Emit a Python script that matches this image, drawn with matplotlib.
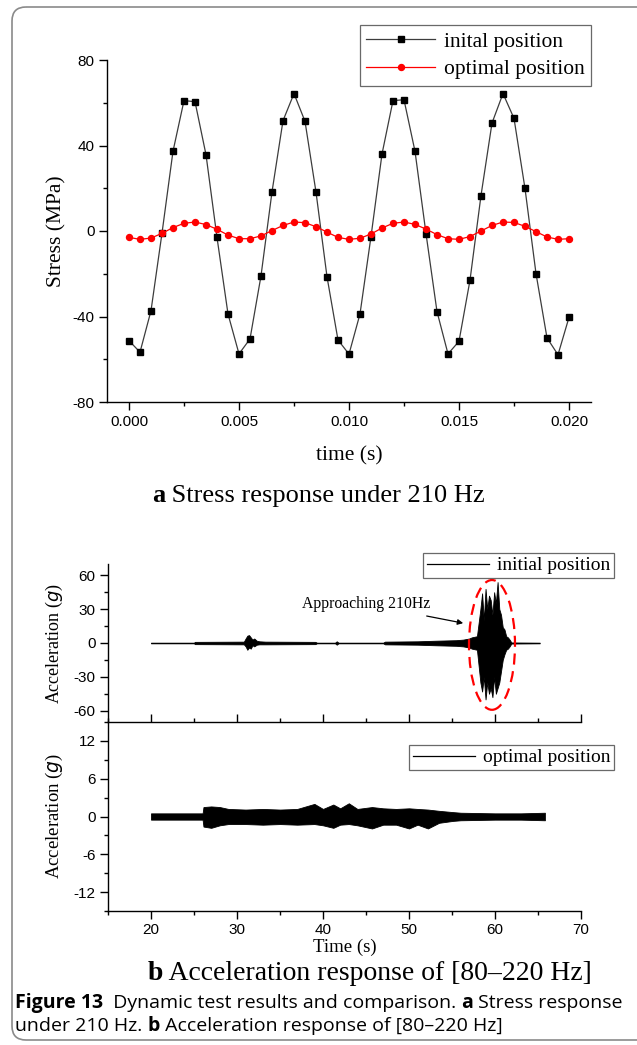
import numpy as np
import matplotlib
matplotlib.use('Agg')
import matplotlib.pyplot as plt
from matplotlib.patches import Ellipse, FancyBboxPatch
from matplotlib.ticker import MultipleLocator

plt.rcParams['axes.unicode_minus'] = False

W, H = 637, 1045
SERIF = 'Liberation Serif'
SANS = 'Liberation Sans'

# ---- (a) stress response at 210 Hz, one sample every 0.5 ms ----
time_s = np.linspace(0.0, 0.020, 41)
stress_init = [-51.3, -56.7, -37.3, -1.0, 37.3, 61.0, 60.5, 35.7, -3.0, -38.8,
               -57.5, -50.5, -21.0, 18.3, 51.6, 64.3, 51.3, 18.2, -21.4, -51.0,
               -57.6, -38.8, -2.6, 36.0, 61.0, 61.4, 37.3, -1.2, -37.7, -57.5,
               -51.6, -23.0, 16.6, 50.5, 64.3, 52.7, 19.9, -19.9, -50.0, -57.9,
               -40.4]
stress_opt = [-3.0, -3.9, -3.3, -1.1, 1.6, 3.6, 4.2, 3.0, 0.8, -1.9,
              -3.6, -3.6, -2.3, 0.2, 2.6, 4.2, 3.9, 2.0, -0.5, -3.0,
              -3.9, -3.4, -1.4, 1.4, 3.6, 4.2, 3.1, 0.9, -1.7, -3.6,
              -3.9, -2.6, 0.0, 2.6, 4.2, 4.0, 2.2, -0.3, -2.8, -3.9,
              -3.6]

# ---- (b) acceleration sweep 80-220 Hz, envelope ----
init_t = [20.0, 25.0, 25.1, 30.8, 31.0, 31.2, 31.4, 31.6, 31.8, 32.0,
          32.3, 32.6, 33.3, 39.1, 39.3, 41.4, 41.6, 41.8, 47.0, 47.2,
          51.0, 53.0, 55.5, 56.3, 57.0, 57.3, 57.9, 58.3, 58.5, 58.7,
          58.9, 59.1, 59.3, 59.5, 59.7, 59.9, 60.1, 60.3, 60.5, 60.7,
          60.9, 61.1, 61.3, 61.5, 61.7, 61.9, 65.2]
init_hi = [0.3, 0.3, 1.0, 1.2, 4.0, 6.5, 7.0, 5.0, 3.0, 4.0,
           2.0, 1.5, 1.2, 1.0, 0.3, 0.3, 1.5, 0.3, 0.3, 1.2,
           1.5, 2.0, 2.5, 3.0, 4.0, 5.0, 6.0, 30, 44, 20,
           48, 30, 42, 38, 25, 45, 35, 54, 30, 25,
           14, 12, 6, 5, 3, 0.5, 0.3]
init_lo = [-0.3, -0.3, -1.0, -1.2, -3.0, -6.0, -4.0, -5.0, -2.0, -3.0,
           -1.5, -1.2, -1.2, -1.0, -0.3, -0.3, -1.5, -0.3, -0.3, -1.2,
           -1.5, -2.0, -2.5, -3.0, -4.0, -5.0, -6.0, -35, -43, -30,
           -50, -35, -45, -40, -48, -30, -45, -40, -35, -25,
           -15, -10, -6, -5, -3, -0.5, -0.3]

opt_t = [20.0, 26.0, 26.1, 27.0, 28.0, 29.0, 31.0, 33.0, 35.0, 37.0,
         39.0, 40.0, 41.2, 42.0, 43.0, 44.0, 45.7, 47.0, 48.5, 50.0,
         51.0, 52.2, 53.5, 55.1, 56.0, 60.0, 63.0, 65.8]
opt_hi = [0.5, 0.5, 1.5, 1.6, 1.5, 1.2, 1.1, 1.2, 1.1, 1.2,
          2.0, 1.2, 1.9, 1.3, 2.1, 1.2, 1.5, 1.3, 1.2, 1.3,
          1.2, 1.1, 0.9, 0.7, 0.6, 0.5, 0.5, 0.6]
opt_lo = [-0.5, -0.5, -1.6, -1.8, -1.4, -1.2, -1.2, -1.3, -1.2, -1.3,
          -1.2, -1.4, -1.8, -1.3, -1.2, -1.4, -1.9, -1.3, -1.3, -1.9,
          -1.3, -1.9, -1.0, -0.7, -0.6, -0.5, -0.5, -0.6]


def px_axes(left, top, right, bottom):
    return fig.add_axes([left / W, 1 - bottom / H, (right - left) / W, (bottom - top) / H])


def style(ax, spines):
    for name, sp in ax.spines.items():
        sp.set_visible(name in spines)
        sp.set_linewidth(1.0)
    ax.tick_params(which='both', direction='out', width=1.0, labelsize=11, pad=3)
    ax.tick_params(which='major', length=6)
    ax.tick_params(which='minor', length=3)
    for lab in ax.get_xticklabels() + ax.get_yticklabels():
        lab.set_fontfamily(SANS)


fig = plt.figure(figsize=(W / 100, H / 100), dpi=100)

# background axes in pixel units, for the frame and the captions
bg = fig.add_axes([0, 0, 1, 1], zorder=-1)
bg.set_xlim(0, W)
bg.set_ylim(H, 0)
bg.axis('off')
bg.add_patch(FancyBboxPatch((12, 7), 700, 1033, boxstyle='round,pad=0,rounding_size=14',
                            fc='none', ec='#8a8a8a', lw=1.2))

# ---------- panel a ----------
ax = px_axes(107, 60, 591, 402)
ax.plot(time_s, stress_init, '-s', color='#3c3c3c', lw=0.9, ms=4.2,
        mfc='black', mec='black', label='inital position')
ax.plot(time_s, stress_opt, '-o', color='red', lw=0.9, ms=4.3,
        mfc='red', mec='red', label='optimal position')
ax.set_xlim(-0.001, 0.021)
ax.set_ylim(-80, 80)
ax.set_xticks([0.0, 0.005, 0.010, 0.015, 0.020])
ax.set_xticklabels(['0.000', '0.005', '0.010', '0.015', '0.020'])
ax.xaxis.set_minor_locator(MultipleLocator(0.0025))
ax.set_yticks([-80, -40, 0, 40, 80])
ax.yaxis.set_minor_locator(MultipleLocator(20))
style(ax, ['left', 'bottom'])
ax.set_ylabel('Stress (MPa)', fontfamily=SERIF, fontsize=15.5, labelpad=4)
ax.set_xlabel('time (s)', fontfamily=SERIF, fontsize=15.5, labelpad=13)
leg = ax.legend(loc='upper right', bbox_to_anchor=(591 / W, 1 - 25 / H),
                bbox_transform=fig.transFigure, prop={'family': SERIF, 'size': 15.5},
                frameon=True, fancybox=False, edgecolor='#444444', handlelength=3.2,
                borderpad=0.3, labelspacing=0.35, handletextpad=0.4, borderaxespad=0)
leg.get_frame().set_linewidth(0.9)

# ---------- panel b ----------
axu = px_axes(108, 564, 581, 722)
axl = px_axes(108, 722, 581, 911)

axu.fill_between(init_t, init_lo, init_hi, color='black', lw=0.6)
axu.set_xlim(15, 70)
axu.set_ylim(-70, 70)
axu.set_yticks([-60, -30, 0, 30, 60])
axu.yaxis.set_minor_locator(MultipleLocator(15))
axu.set_xticks([])
style(axu, ['left'])
axu.set_ylabel('Acceleration ($g$)', fontfamily=SERIF, fontsize=13, labelpad=6)

axl.fill_between(opt_t, opt_lo, opt_hi, color='black', lw=0.6)
axl.set_xlim(15, 70)
axl.set_ylim(-15, 15)
axl.set_xticks([20, 30, 40, 50, 60, 70])
axl.xaxis.set_minor_locator(MultipleLocator(5))
axl.set_yticks([-12, -6, 0, 6, 12])
axl.yaxis.set_minor_locator(MultipleLocator(3))
style(axl, ['left', 'bottom', 'top'])
axl.tick_params(axis='x', which='both', top=True, labeltop=False)
axl.set_ylabel('Acceleration ($g$)', fontfamily=SERIF, fontsize=13.5, labelpad=6)
axl.set_xlabel('Time (s)', fontfamily=SERIF, fontsize=13.5, labelpad=1)

for a, top, label in [(axu, 553, 'initial position'), (axl, 745, 'optimal position')]:
    line = plt.Line2D([], [], color='black', lw=0.9)
    lg = a.legend([line], [label], loc='upper right', bbox_to_anchor=(614 / W, 1 - top / H),
                  bbox_transform=fig.transFigure, prop={'family': SERIF, 'size': 14},
                  frameon=True, fancybox=False, edgecolor='#444444', handlelength=3.2,
                  borderpad=0.2, handletextpad=0.4, borderaxespad=0)
    lg.get_frame().set_linewidth(0.9)

axu.annotate('Approaching 210Hz', xy=(56.3, 17.6), xytext=(45, 34.4),
             fontfamily=SERIF, fontsize=11.3, ha='center', va='center',
             arrowprops=dict(arrowstyle='-|>', color='black', lw=0.9,
                             mutation_scale=8, shrinkA=4, shrinkB=0))
axu.add_patch(Ellipse((59.65, -1.7), 5.35, 115, fill=False, ec='red', lw=1.6,
                      ls=(0, (5, 3)), clip_on=False))

# ---------- captions ----------
rend = fig.canvas.get_renderer()


def runs(x, y, parts, family, size):
    for s, weight in parts:
        t = bg.text(x, y, s, fontfamily=family, fontsize=size, fontweight=weight,
                    ha='left', va='center')
        x += t.get_window_extent(renderer=rend).width


runs(152, 496, [('a', 'bold'), (' Stress response under 210 Hz', 'normal')], SERIF, 19)
runs(148, 973, [('b', 'bold'), (' Acceleration response of [80\u2013220 Hz]', 'normal')], SERIF, 20)
runs(15, 1003, [('Figure 13', 'bold'), ('  Dynamic test results and comparison. ', 'normal'),
                ('a', 'bold'), (' Stress response', 'normal')], 'Open Sans', 14)
runs(15, 1026, [('under 210 Hz. ', 'normal'), ('b', 'bold'),
                (' Acceleration response of [80\u2013220 Hz]', 'normal')], 'Open Sans', 14)

fig.savefig('out.png', dpi=100)
